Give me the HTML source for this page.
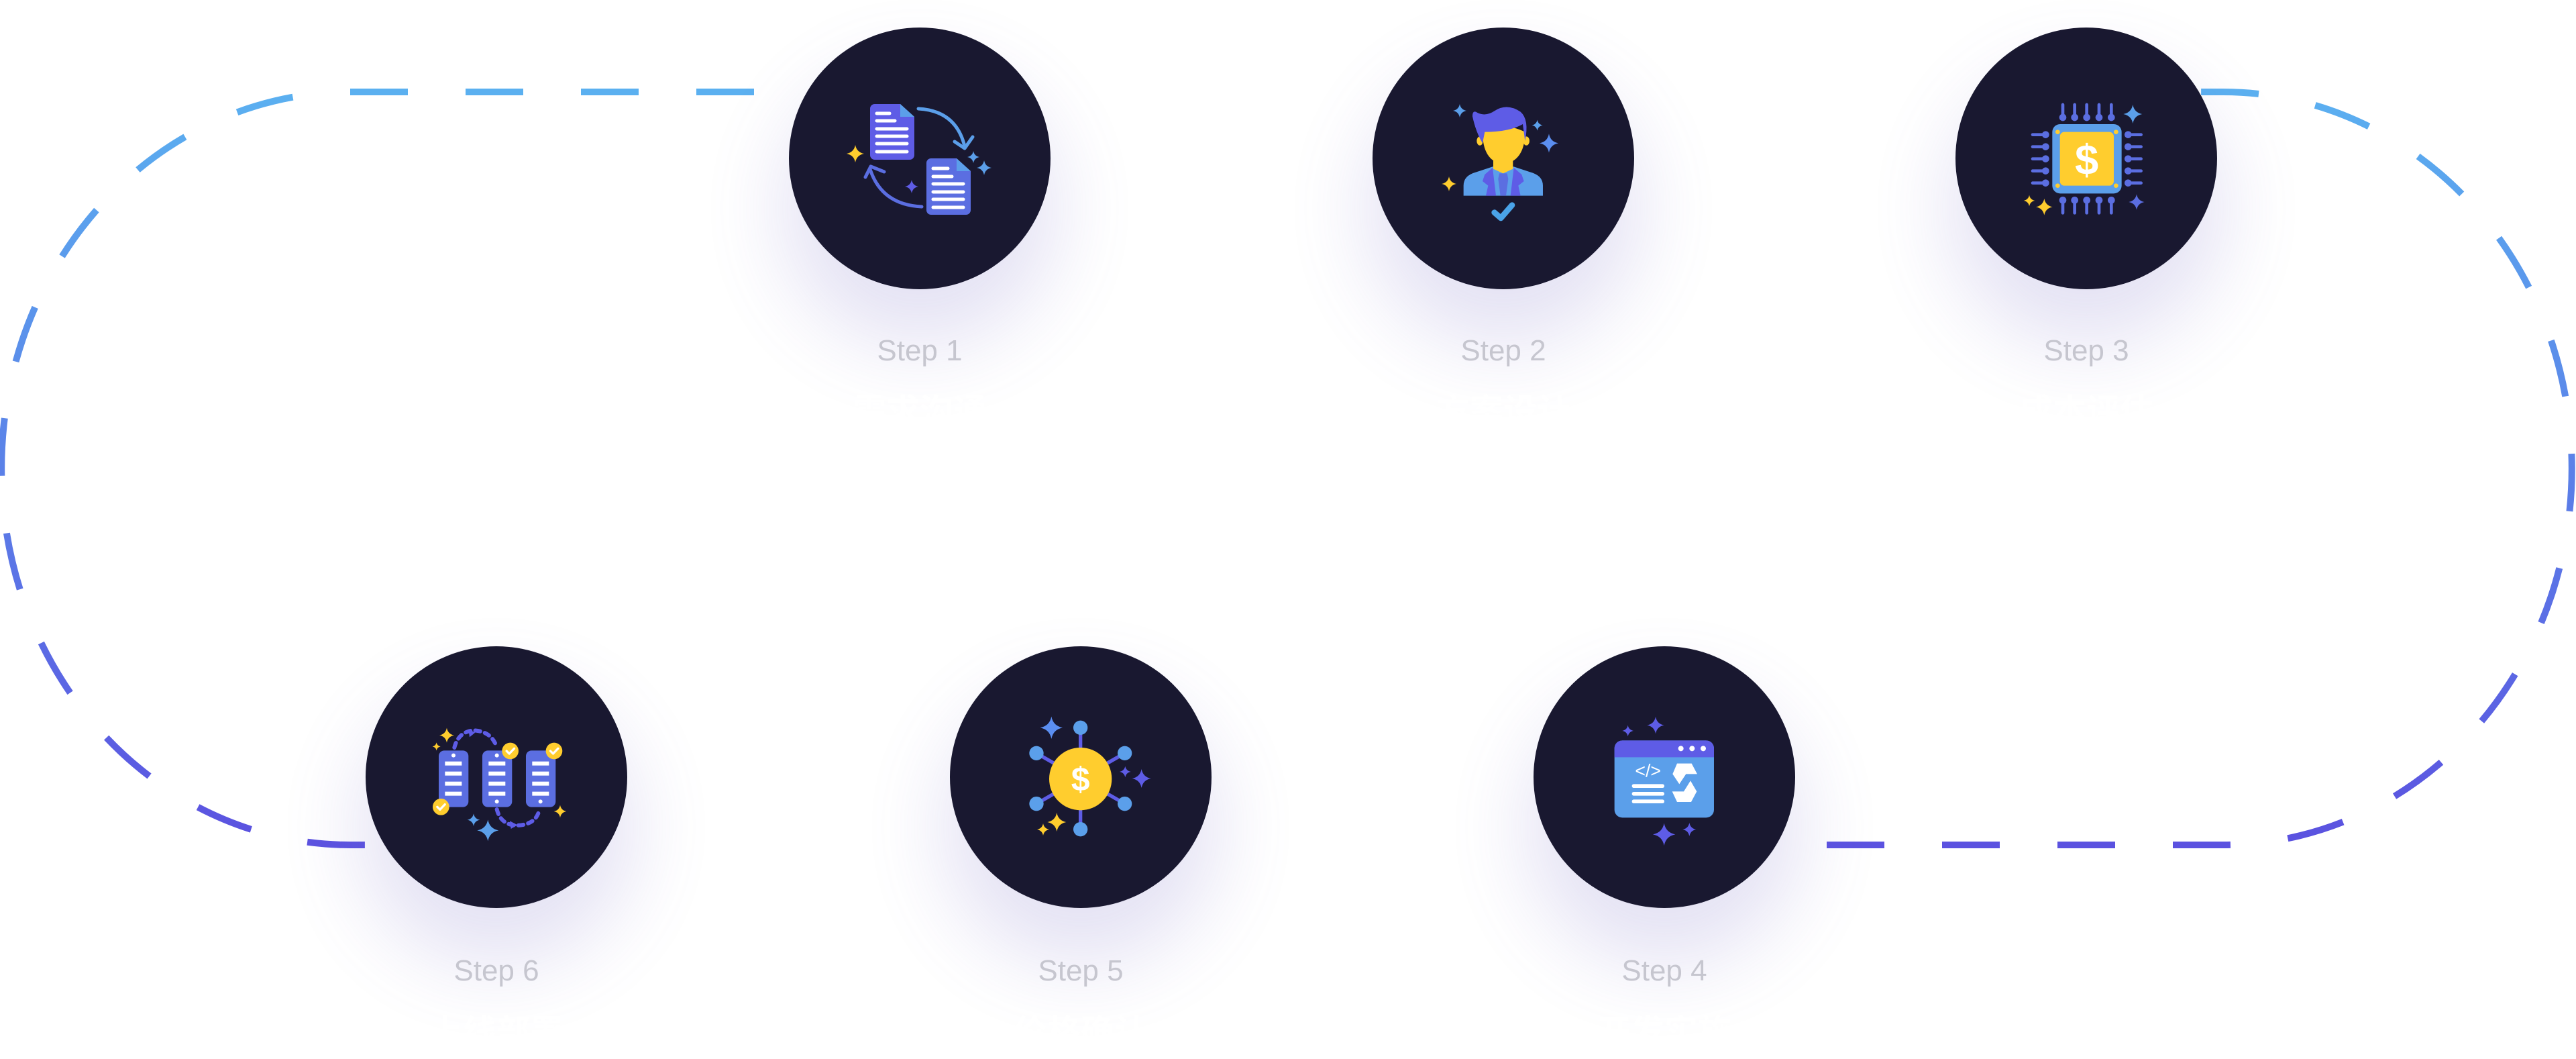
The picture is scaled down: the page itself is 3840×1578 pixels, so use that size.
<!DOCTYPE html>
<html><head><meta charset="utf-8"><style>
html,body{margin:0;padding:0;background:#fff;}
svg{display:block;}
.lbl{font-family:"Liberation Sans","Noto Sans CJK SC",sans-serif;font-size:44px;fill:#c6c6cf;text-anchor:middle;}
.cn{font-family:"Liberation Sans","Noto Sans CJK SC",sans-serif;font-size:50px;fill:#fff;text-anchor:middle;font-weight:bold;}
</style></head><body>
<svg width="3840" height="1578" viewBox="0 0 3840 1578" xmlns="http://www.w3.org/2000/svg">
<defs>
<linearGradient id="g" gradientUnits="userSpaceOnUse" x1="0" y1="137" x2="0" y2="1259">
<stop offset="0" stop-color="#5bb0f0"/><stop offset="1" stop-color="#5b52e0"/></linearGradient>
<filter id="sh" x="-100%" y="-100%" width="300%" height="300%"><feGaussianBlur stdDeviation="60"/></filter>
<path id="sp" d="M0,-10 Q1.6,-1.6 10,0 Q1.6,1.6 0,10 Q-1.6,1.6 -10,0 Q-1.6,-1.6 0,-10Z"/>
<g id="chk"><path d="M-15,0 L-4,11 L16,-10" fill="none" stroke="#fff" stroke-width="9" stroke-linecap="round" stroke-linejoin="round"/></g>
</defs>

<g fill="none" stroke="url(#g)" stroke-width="10" stroke-dasharray="86 86">
<path d="M1296,137 H522 A520,561 0 0 0 522,1259 H700"/>
<path d="M2723,1259 H3314 A520,561 0 0 0 3314,137 H3000"/>
</g>

<g fill="#6a5fc0" opacity="0.18" filter="url(#sh)">
<circle cx="1371" cy="310" r="205"/><circle cx="2241" cy="310" r="205"/><circle cx="3110" cy="310" r="205"/>
<circle cx="740" cy="1232" r="205"/><circle cx="1611" cy="1232" r="205"/><circle cx="2481" cy="1232" r="205"/>
</g>

<g fill="#191830">
<circle cx="1371" cy="236" r="195"/><circle cx="2241" cy="236" r="195"/><circle cx="3110" cy="236" r="195"/>
<circle cx="740" cy="1158" r="195"/><circle cx="1611" cy="1158" r="195"/><circle cx="2481" cy="1158" r="195"/>
</g>

<text class="lbl" x="1371" y="537">Step 1</text>
<text class="lbl" x="2241" y="537">Step 2</text>
<text class="lbl" x="3110" y="537">Step 3</text>
<text class="lbl" x="740" y="1461">Step 6</text>
<text class="lbl" x="1611" y="1461">Step 5</text>
<text class="lbl" x="2481" y="1461">Step 4</text>
<text class="cn" x="1371" y="630">需求沟通</text>
<text class="cn" x="2241" y="630">方案设计</text>
<text class="cn" x="3110" y="630">成本评估</text>
<text class="cn" x="740" y="1555">上线部署</text>
<text class="cn" x="1611" y="1555">价格确认</text>
<text class="cn" x="2481" y="1555">开发实施</text>

<g>
<path d="M1297,162 a7,7 0 0 1 7,-7 h38 l21,19 v57 a7,7 0 0 1 -7,7 h-52 a7,7 0 0 1 -7,-7z" fill="#5e5ce6"/>
<path d="M1342,155 l21,19 h-21z" fill="#5b9fea"/>
<g stroke="#fff" stroke-width="5" stroke-linecap="round">
<line x1="1307" y1="169" x2="1326" y2="169"/><line x1="1307" y1="180" x2="1334" y2="180"/><line x1="1307" y1="192" x2="1352" y2="192"/><line x1="1307" y1="203" x2="1352" y2="203"/><line x1="1307" y1="214" x2="1352" y2="214"/><line x1="1307" y1="226" x2="1352" y2="226"/>
</g>
<path d="M1381,243 a7,7 0 0 1 7,-7 h38 l21,19 v58 a7,7 0 0 1 -7,7 h-52 a7,7 0 0 1 -7,-7z" fill="#5b6ee1"/>
<path d="M1426,236 l21,19 h-21z" fill="#5b9fea"/>
<g stroke="#fff" stroke-width="5" stroke-linecap="round">
<line x1="1391" y1="251" x2="1413" y2="251"/><line x1="1391" y1="263" x2="1419" y2="263"/><line x1="1391" y1="274" x2="1436" y2="274"/><line x1="1391" y1="286" x2="1436" y2="286"/><line x1="1391" y1="297" x2="1436" y2="297"/><line x1="1391" y1="309" x2="1436" y2="309"/>
</g>
<path d="M1369,162 Q1425,165 1438,218" fill="none" stroke="#5b9fea" stroke-width="5" stroke-linecap="round"/>
<path d="M1423,211 L1438,221 L1450,204" fill="none" stroke="#5b9fea" stroke-width="5" stroke-linecap="round" stroke-linejoin="round"/>
<path d="M1374,308 Q1314,305 1297,252" fill="none" stroke="#5b6ee1" stroke-width="5" stroke-linecap="round"/>
<path d="M1290,264 L1298,248 L1318,256" fill="none" stroke="#5b6ee1" stroke-width="5" stroke-linecap="round" stroke-linejoin="round"/>
<use href="#sp" transform="translate(1275,229) scale(1.3)" fill="#ffcd2e"/>
<use href="#sp" transform="translate(1451,234) scale(0.9)" fill="#5b9fea"/>
<use href="#sp" transform="translate(1467,250) scale(1.1)" fill="#5b9fea"/>
<use href="#sp" transform="translate(1359,278) scale(1)" fill="#5e5ce6"/>
</g>

<g transform="translate(2100,120) scale(0.3333)">
<path d="M245,515 V470 Q245,425 300,410 L375,385 H470 L545,410 Q600,425 600,470 V515Z" fill="#5b9fea"/>
<path d="M340,420 L375,390 L390,515 H345 L355,470 L330,450Z M505,420 L470,390 L455,515 H500 L490,470 L515,450Z" fill="#5e5ce6"/>
<path d="M405,415 H440 L445,440 L435,515 H410 L400,440Z" fill="#5b6ee1"/>
<path d="M378,340 V395 L422,415 L466,395 V340Z" fill="#ffcd2e"/>
<path d="M330,230 Q330,360 422,375 Q520,360 520,230 Q420,180 330,230Z" fill="#ffcd2e"/>
<ellipse cx="318" cy="270" rx="14" ry="20" fill="#ffcd2e"/><ellipse cx="526" cy="270" rx="14" ry="20" fill="#ffcd2e"/>
<path d="M300,140 Q340,165 385,135 Q440,100 500,140 Q540,175 520,270 L510,195 Q450,230 340,230 L330,280 Q300,230 285,160 Q285,135 300,140Z" fill="#5e5ce6"/>
<path d="M383,590 L412,615 L462,557" fill="none" stroke="#4aa3e8" stroke-width="26" stroke-linecap="round" stroke-linejoin="round"/>
<use href="#sp" transform="translate(228,135) scale(3)" fill="#5b9fea"/>
<use href="#sp" transform="translate(575,200) scale(2.4)" fill="#5b9fea"/>
<use href="#sp" transform="translate(627,280) scale(4.2)" fill="#5b8ef0"/>
<use href="#sp" transform="translate(180,462) scale(3.3)" fill="#ffcd2e"/>
</g>

<g transform="translate(2970,120) scale(0.3333)">
<g stroke="#5b6ee1" stroke-width="14" stroke-linecap="round" fill="#5b6ee1">
<line x1="315" y1="108" x2="315" y2="165"/><line x1="368" y1="108" x2="368" y2="165"/><line x1="422" y1="108" x2="422" y2="165"/><line x1="477" y1="108" x2="477" y2="165"/><line x1="532" y1="108" x2="532" y2="165"/>
<line x1="315" y1="535" x2="315" y2="592"/><line x1="368" y1="535" x2="368" y2="592"/><line x1="422" y1="535" x2="422" y2="592"/><line x1="477" y1="535" x2="477" y2="592"/><line x1="532" y1="535" x2="532" y2="592"/>
<line x1="180" y1="242" x2="238" y2="242"/><line x1="180" y1="296" x2="238" y2="296"/><line x1="180" y1="350" x2="238" y2="350"/><line x1="180" y1="404" x2="238" y2="404"/><line x1="180" y1="458" x2="238" y2="458"/>
<line x1="607" y1="242" x2="665" y2="242"/><line x1="607" y1="296" x2="665" y2="296"/><line x1="607" y1="350" x2="665" y2="350"/><line x1="607" y1="404" x2="665" y2="404"/><line x1="607" y1="458" x2="665" y2="458"/>
</g>
<g fill="#5b6ee1">
<circle cx="315" cy="165" r="16"/><circle cx="368" cy="165" r="16"/><circle cx="422" cy="165" r="16"/><circle cx="477" cy="165" r="16"/><circle cx="532" cy="165" r="16"/>
<circle cx="315" cy="535" r="16"/><circle cx="368" cy="535" r="16"/><circle cx="422" cy="535" r="16"/><circle cx="477" cy="535" r="16"/><circle cx="532" cy="535" r="16"/>
<circle cx="238" cy="242" r="16"/><circle cx="238" cy="296" r="16"/><circle cx="238" cy="350" r="16"/><circle cx="238" cy="404" r="16"/><circle cx="238" cy="458" r="16"/>
<circle cx="607" cy="242" r="16"/><circle cx="607" cy="296" r="16"/><circle cx="607" cy="350" r="16"/><circle cx="607" cy="404" r="16"/><circle cx="607" cy="458" r="16"/>
</g>
<rect x="268" y="195" width="310" height="310" rx="35" fill="#5b9fea"/>
<rect x="302" y="230" width="241" height="240" rx="20" fill="#ffcd2e"/>
<g fill="#ffcd2e"><circle cx="292" cy="230" r="10"/><circle cx="553" cy="230" r="10"/><circle cx="292" cy="470" r="10"/><circle cx="553" cy="470" r="10"/></g>
<text x="422" y="420" font-family="Liberation Sans,sans-serif" font-weight="bold" font-size="190" fill="#fff" text-anchor="middle">$</text>
<use href="#sp" transform="translate(628,150) scale(4.2)" fill="#5b9fea"/>
<use href="#sp" transform="translate(645,543) scale(3.5)" fill="#5b6ee1"/>
<use href="#sp" transform="translate(165,537) scale(2.5)" fill="#ffcd2e"/>
<use href="#sp" transform="translate(232,565) scale(3.7)" fill="#ffcd2e"/>
</g>

<g transform="translate(2340,1040) scale(0.3333)">
<rect x="200" y="190" width="445" height="345" rx="35" fill="#5b9fea"/>
<path d="M200,265 V225 a35,35 0 0 1 35,-35 H610 a35,35 0 0 1 35,35 V265Z" fill="#5e5ce6"/>
<g fill="#fff"><circle cx="497" cy="226" r="12"/><circle cx="547" cy="226" r="12"/><circle cx="597" cy="226" r="12"/></g>
<text x="350" y="352" font-family="Liberation Sans,sans-serif" font-size="80" fill="#fff" text-anchor="middle">&lt;/&gt;</text>
<g fill="#fff"><rect x="278" y="385" width="145" height="17" rx="8"/><rect x="278" y="420" width="145" height="17" rx="8"/><rect x="278" y="454" width="145" height="17" rx="8"/>
<path d="M480,293 H545 L570,340 H520 L490,385 L460,340Z"/>
<path d="M540,370 L568,418 L543,465 H480 L458,418 H510Z"/></g>
<use href="#sp" transform="translate(260,147) scale(2.5)" fill="#5e5ce6"/>
<use href="#sp" transform="translate(384,122) scale(3.8)" fill="#5e5ce6"/>
<use href="#sp" transform="translate(422,610) scale(5)" fill="#5e5ce6"/>
<use href="#sp" transform="translate(535,588) scale(3)" fill="#5e5ce6"/>
</g>

<g transform="translate(1470,1040) scale(0.3333)">
<g stroke="#5e5ce6" stroke-width="16">
<line x1="422" y1="133" x2="422" y2="587"/><line x1="225" y1="247" x2="620" y2="473"/><line x1="620" y1="247" x2="225" y2="473"/>
</g>
<g fill="#5b9fea"><circle cx="422" cy="133" r="32"/><circle cx="620" cy="247" r="32"/><circle cx="620" cy="473" r="32"/><circle cx="422" cy="587" r="32"/><circle cx="225" cy="473" r="32"/><circle cx="225" cy="247" r="32"/></g>
<circle cx="422" cy="362" r="140" fill="#ffcd2e"/>
<text x="422" y="415" font-family="Liberation Sans,sans-serif" font-weight="bold" font-size="150" fill="#fff" text-anchor="middle">$</text>
<use href="#sp" transform="translate(292,133) scale(5)" fill="#5b8ef0"/>
<use href="#sp" transform="translate(622,330) scale(2.5)" fill="#5e5ce6"/>
<use href="#sp" transform="translate(695,360) scale(4.2)" fill="#5e5ce6"/>
<use href="#sp" transform="translate(316,555) scale(4.2)" fill="#ffcd2e"/>
<use href="#sp" transform="translate(255,588) scale(2.7)" fill="#ffcd2e"/>
</g>

<g transform="translate(600,1040) scale(0.3333)">
<path d="M232,222 Q250,150 320,145 Q400,150 422,222" fill="none" stroke="#5e5ce6" stroke-width="18" stroke-dasharray="22 22" stroke-linecap="round"/>
<path d="M295,140 L325,155 L300,175Z" fill="#5e5ce6"/>
<path d="M422,498 Q440,570 515,570 Q600,565 612,498" fill="none" stroke="#5e5ce6" stroke-width="18" stroke-dasharray="22 22" stroke-linecap="round"/>
<path d="M480,550 L515,568 L485,585Z" fill="#5e5ce6"/>
<g fill="#5b6ee1"><rect x="162" y="235" width="133" height="253" rx="25"/><rect x="357" y="235" width="133" height="253" rx="25"/><rect x="552" y="235" width="133" height="253" rx="25"/></g>
<g fill="#fff">
<circle cx="228" cy="257" r="9"/><circle cx="422" cy="257" r="9"/><circle cx="422" cy="463" r="9"/><circle cx="617" cy="463" r="9"/>
<rect x="190" y="284" width="75" height="18"/><rect x="190" y="329" width="75" height="18"/><rect x="190" y="374" width="75" height="18"/><rect x="190" y="419" width="75" height="18"/>
<rect x="385" y="284" width="75" height="18"/><rect x="385" y="329" width="75" height="18"/><rect x="385" y="374" width="75" height="18"/><rect x="385" y="419" width="75" height="18"/>
<rect x="580" y="284" width="75" height="18"/><rect x="580" y="329" width="75" height="18"/><rect x="580" y="374" width="75" height="18"/><rect x="580" y="419" width="75" height="18"/>
</g>
<g fill="#ffcd2e"><circle cx="172" cy="487" r="37"/><circle cx="482" cy="237" r="37"/><circle cx="678" cy="237" r="37"/></g>
<use href="#chk" transform="translate(172,487) scale(1.1)"/><use href="#chk" transform="translate(482,237) scale(1.1)"/><use href="#chk" transform="translate(678,237) scale(1.1)"/>
<use href="#sp" transform="translate(198,167) scale(3.3)" fill="#ffcd2e"/>
<use href="#sp" transform="translate(152,217) scale(1.8)" fill="#ffcd2e"/>
<use href="#sp" transform="translate(705,507) scale(2.8)" fill="#ffcd2e"/>
<use href="#sp" transform="translate(318,545) scale(2.8)" fill="#5b9fea"/>
<use href="#sp" transform="translate(382,592) scale(4.8)" fill="#5b9fea"/>
</g>
</svg>
</body></html>
